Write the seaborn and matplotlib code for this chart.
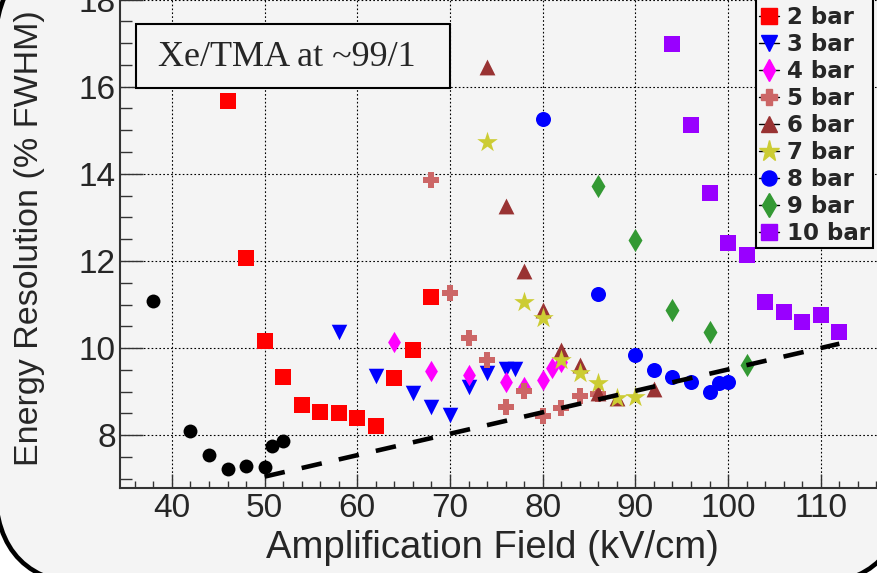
import numpy as np
import pandas as pd
import matplotlib
matplotlib.use("Agg")
import matplotlib.pyplot as plt
import seaborn as sns
from matplotlib.lines import Line2D
from matplotlib.patches import FancyBboxPatch, Rectangle
from matplotlib.ticker import MultipleLocator
from matplotlib.transforms import IdentityTransform

# Energy resolution (% FWHM) vs amplification field (kV/cm), Xe/TMA ~99/1
field_1bar = [38, 42, 44, 46, 48, 50, 50.8, 52]
res_1bar = [11.07, 8.10, 7.55, 7.22, 7.30, 7.28, 7.76, 7.87]

field_2bar = [46, 48, 50, 52, 54, 56, 58, 60, 62, 64, 66, 68]
res_2bar = [15.66, 12.07, 10.16, 9.33, 8.69, 8.54, 8.52, 8.39, 8.22, 9.32, 9.95, 11.17]

field_3bar = [58, 62, 66, 68, 70, 72, 74, 76, 77]
res_3bar = [10.38, 9.36, 8.97, 8.65, 8.47, 9.10, 9.42, 9.52, 9.52]

field_4bar = [64, 68, 72, 76, 78, 80, 81, 82]
res_4bar = [10.13, 9.48, 9.38, 9.21, 9.11, 9.26, 9.55, 9.68]

field_5bar = [68, 70, 72, 74, 76, 78, 80, 82, 84, 86]
res_5bar = [13.86, 11.27, 10.22, 9.72, 8.65, 9.02, 8.44, 8.62, 8.90, 8.95]

field_6bar = [74, 76, 78, 80, 82, 84, 86, 88, 92]
res_6bar = [16.44, 13.26, 11.76, 10.88, 9.95, 9.61, 8.96, 8.85, 9.07]

field_7bar = [74, 78, 80, 82, 84, 86, 88, 90]
res_7bar = [14.73, 11.05, 10.70, 9.72, 9.43, 9.19, 8.85, 8.87]

field_8bar = [80, 86, 90, 92, 94, 96, 98, 99, 100]
res_8bar = [15.26, 11.23, 9.84, 9.49, 9.34, 9.23, 9.00, 9.19, 9.23]

field_9bar = [86, 90, 94, 98, 102]
res_9bar = [13.72, 12.48, 10.88, 10.37, 9.61]

field_10bar = [94, 96, 98, 100, 102, 104, 106, 108, 110, 112]
res_10bar = [16.99, 15.12, 13.55, 12.41, 12.14, 11.05, 10.83, 10.60, 10.77, 10.38]

# lower bound guide line
limit_field = [50, 112]
limit_res = [7.05, 10.10]

labels = ["1 bar", "2 bar", "3 bar", "4 bar", "5 bar",
          "6 bar", "7 bar", "8 bar", "9 bar", "10 bar"]
fields = [field_1bar, field_2bar, field_3bar, field_4bar, field_5bar,
          field_6bar, field_7bar, field_8bar, field_9bar, field_10bar]
resolutions = [res_1bar, res_2bar, res_3bar, res_4bar, res_5bar,
               res_6bar, res_7bar, res_8bar, res_9bar, res_10bar]

markers = ["o", "s", "v", "d", "P", "^", "*", "o", "d", "s"]
colors = ["black", "#ff0000", "#0000ff", "#ff00ff", "#cc6666",
          "#993333", "#cccc33", "#0000ff", "#339933", "#9900ff"]
sizes = [100, 132, 125, 118, 140, 130, 240, 117, 140, 132]

df = pd.concat(
    [pd.DataFrame({"field": f, "res": r, "pressure": lab})
     for lab, f, r in zip(labels, fields, resolutions)],
    ignore_index=True,
)

sns.set_style("ticks")
plt.rcParams["font.family"] = ["Liberation Sans", "DejaVu Sans"]

bg = "#f4f4f4"
fig = plt.figure(figsize=(8.77, 5.73), dpi=100, facecolor="white")

# slide frame with rounded corners
frame = FancyBboxPatch((-5, -12), 910, 636,
                       boxstyle="round,pad=0,rounding_size=100",
                       transform=IdentityTransform(), facecolor=bg,
                       edgecolor="black", linewidth=3.3, zorder=-5)
fig.add_artist(frame)

ax = fig.add_axes([120 / 877, 85.5 / 573, 765.7 / 877, 488 / 573])
ax.set_facecolor("none")

for lab, m, c, s in zip(labels, markers, colors, sizes):
    sub = df[df["pressure"] == lab]
    sns.scatterplot(data=sub, x="field", y="res", ax=ax, marker=m,
                    color=c, s=s, linewidth=0, legend=False, zorder=3)

sns.lineplot(x=limit_field, y=limit_res, ax=ax, color="black",
             linewidth=3.3, linestyle=(0, (4.5, 3.8)), zorder=4)

ax.set_xlim(34.4, 117.0)
ax.set_ylim(6.8, 18.0)
ax.xaxis.set_major_locator(MultipleLocator(10))
ax.xaxis.set_minor_locator(MultipleLocator(2))
ax.yaxis.set_major_locator(MultipleLocator(2))
ax.yaxis.set_minor_locator(MultipleLocator(0.5))

ax.set_axisbelow(True)
ax.grid(True, which="major", color="black", linestyle=(0, (1.5, 2.0)),
        linewidth=0.8)

ax.tick_params(which="both", direction="in", top=False, right=False,
               width=1.0, color="#333333")
ax.tick_params(axis="x", which="major", length=10, pad=4, labelsize=24)
ax.tick_params(axis="x", which="minor", length=5)
ax.tick_params(axis="y", which="major", length=16.5, pad=3, labelsize=24)
ax.tick_params(axis="y", which="minor", length=8.6)

for side in ["top", "right"]:
    ax.spines[side].set_visible(False)
for side in ["left", "bottom"]:
    ax.spines[side].set_linewidth(1.5)
    ax.spines[side].set_color("#333333")

ax.set_xlabel("")
ax.set_ylabel("")

fig.text(30 / 877, 1 - 238 / 573, "Energy Resolution (% FWHM)",
         rotation=90, ha="center", va="center", fontsize=24.5)
fig.text(492 / 877, 1 - 548 / 573, "Amplification Field (kV/cm)",
         ha="center", va="center", fontsize=27.5)

# gas mixture label box
box = Rectangle((136, 573 - 88), 314, 64, transform=IdentityTransform(),
                facecolor=bg, edgecolor="black", linewidth=1.5, zorder=5)
ax.add_patch(box)
ax.text(287, 573 - 57, "Xe/TMA at ~99/1", transform=IdentityTransform(),
        ha="center", va="center", fontsize=26, family="Liberation Serif",
        zorder=6)

handles = [Line2D([0], [0], color="black", linewidth=1.0, marker=m,
                  markerfacecolor=c, markeredgecolor=c,
                  markersize=np.sqrt(s))
           for m, c, s in zip(markers, colors, sizes)]
leg = fig.legend(handles, labels, loc="lower right",
                 bbox_to_anchor=(873 / 877, 325 / 573),
                 bbox_transform=fig.transFigure, frameon=True,
                 fancybox=False, edgecolor="black", facecolor=bg,
                 framealpha=1, borderaxespad=0, borderpad=0.15,
                 handlelength=0.85, handletextpad=0.35, labelspacing=0.17,
                 prop=dict(family="DejaVu Sans", weight="bold", size=16.5))
leg.get_frame().set_linewidth(1.5)

fig.savefig("out.png", dpi=100, facecolor="white")
